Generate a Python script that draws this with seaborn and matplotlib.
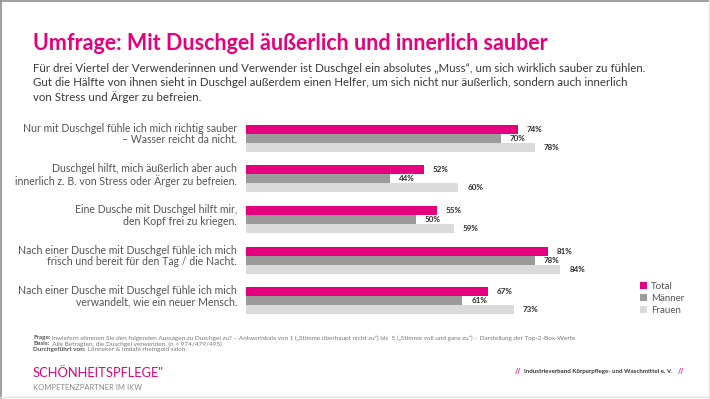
import numpy as np
import pandas as pd
import seaborn as sns
import matplotlib.pyplot as plt
from matplotlib.lines import Line2D
import matplotlib.transforms as mtransforms

aussagen = [
    "Nur mit Duschgel fühle ich mich richtig sauber\n– Wasser reicht da nicht.",
    "Duschgel hilft, mich äußerlich aber auch\ninnerlich z. B. von Stress oder Ärger zu befreien.",
    "Eine Dusche mit Duschgel hilft mir,\nden Kopf frei zu kriegen.",
    "Nach einer Dusche mit Duschgel fühle ich mich\nfrisch und bereit für den Tag / die Nacht.",
    "Nach einer Dusche mit Duschgel fühle ich mich\nverwandelt, wie ein neuer Mensch.",
]
gruppen = ["Total", "Männer", "Frauen"]
total = [74, 52, 55, 81, 67]
maenner = [70, 44, 50, 78, 61]
frauen = [78, 60, 59, 84, 73]

farben = {"Total": "#E5007D", "Männer": "#9B9B9B", "Frauen": "#DADADA"}
PINK = "#E5007D"

df = pd.DataFrame({
    "aussage": aussagen * 3,
    "gruppe": np.repeat(gruppen, len(aussagen)),
    "wert": total + maenner + frauen,
})

sns.set_theme(style="white")
plt.rcParams["font.family"] = ["Lato", "DejaVu Sans"]

fig = plt.figure(figsize=(7.1, 3.99), dpi=100)
ax = fig.add_axes([246 / 710, 1 - 321 / 399, 374 / 710, 203 / 399])

sns.barplot(data=df, y="aussage", x="wert", hue="gruppe", orient="h",
            palette=farben, hue_order=gruppen, order=aussagen,
            width=0.665, saturation=1, linewidth=0, ax=ax)

for cont in ax.containers:
    ax.bar_label(cont, fmt="%d%%", padding=6.5, fontsize=5.8,
                 fontweight="bold", color="#2b2b2b")

ax.set_xlim(10.2, 98)
ax.set_xlabel("")
ax.set_ylabel("")
ax.set_xticks([])
ax.set_yticks([])
sns.despine(ax=ax, left=True, bottom=True)

# Aussagen links neben den Balken
trans = mtransforms.blended_transform_factory(ax.transAxes, ax.transData)
for i, txt in enumerate(aussagen):
    ax.text(-0.024, i - 0.1, txt, transform=trans, ha="right", va="center",
            fontsize=7.6, color="#555555", linespacing=1.05)

# Legende
handles, labels = ax.get_legend_handles_labels()
ax.legend(handles, labels, loc="upper left", bbox_to_anchor=(640 / 710, 1 - 282 / 399),
          bbox_transform=fig.transFigure, frameon=False, fontsize=7,
          handlelength=0.75, handleheight=0.75, handletextpad=0.35,
          labelspacing=0.3, borderpad=0, borderaxespad=0, labelcolor="#555555")

# Titel und Einleitung
fig.text(33 / 710, 1 - 43 / 399, "Umfrage: Mit Duschgel äußerlich und innerlich sauber",
         fontsize=15.5, fontweight="bold", color=PINK, va="center")
intro = ["Für drei Viertel der Verwenderinnen und Verwender ist Duschgel ein absolutes „Muss“, um sich wirklich sauber zu fühlen.",
         "Gut die Hälfte von ihnen sieht in Duschgel außerdem einen Helfer, um sich nicht nur äußerlich, sondern auch innerlich",
         "von Stress und Ärger zu befreien."]
for k, line in enumerate(intro):
    fig.text(33 / 710, 1 - (68 + 14.5 * k) / 399, line, fontsize=8.3,
             color="#3a3a3a", va="center")

# Fußnoten
fuss = [("Frage:", " Inwiefern stimmen Sie den folgenden Aussagen zu Duschgel zu? – Antwortskala von 1 („Stimme überhaupt nicht zu“) bis  5 („Stimme voll und ganz zu“) – Darstellung der Top-2-Box-Werte"),
        ("Basis:", "  Alle Befragten, die Duschgel verwenden. (n = 974/479/495)"),
        ("Durchgeführt von:", " Lönneker & Imdahl rheingold salon")]
for k, (kopf, rest) in enumerate(fuss):
    y = 1 - (338 + 5.8 * k) / 399
    t = fig.text(33 / 710, y, kopf, fontsize=4.55, fontweight="bold", color="#555555", va="center")
    fig.canvas.draw()
    bb = t.get_window_extent()
    fig.text(bb.x1 / fig.bbox.width, y, rest, fontsize=4.55, color="#777777", va="center")

fig.text(33 / 710, 1 - 373 / 399, "SCHÖNHEITSPFLEGE\"", fontsize=9.3, color=PINK,
         va="center")
fig.text(33 / 710, 1 - 388 / 399, "KOMPETENZPARTNER IM IKW", fontsize=5.5,
         color="#8a8a8a", va="center")
fig.text(515 / 710, 1 - 371 / 399, "//", fontsize=5, color=PINK, va="center", fontweight="bold")
fig.text(524 / 710, 1 - 371 / 399, "Industrieverband Körperpflege- und Waschmittel e. V.",
         fontsize=4.4, color="#333333", va="center", fontweight="bold")
fig.text(678 / 710, 1 - 371 / 399, "//", fontsize=5, color=PINK, va="center", fontweight="bold")

# Rahmen
fig.add_artist(Line2D([0, 1], [0.998, 0.998], transform=fig.transFigure, color="#8f8f8f", lw=1.2))
fig.add_artist(Line2D([0.001, 0.001], [0, 1], transform=fig.transFigure, color="#8f8f8f", lw=1.2))
fig.add_artist(Line2D([0.998, 0.998], [0, 1], transform=fig.transFigure, color="#e2e2e2", lw=1))
fig.add_artist(Line2D([0, 1], [0.004, 0.004], transform=fig.transFigure, color="#e2e2e2", lw=1))

fig.savefig("out.png", dpi=100)
